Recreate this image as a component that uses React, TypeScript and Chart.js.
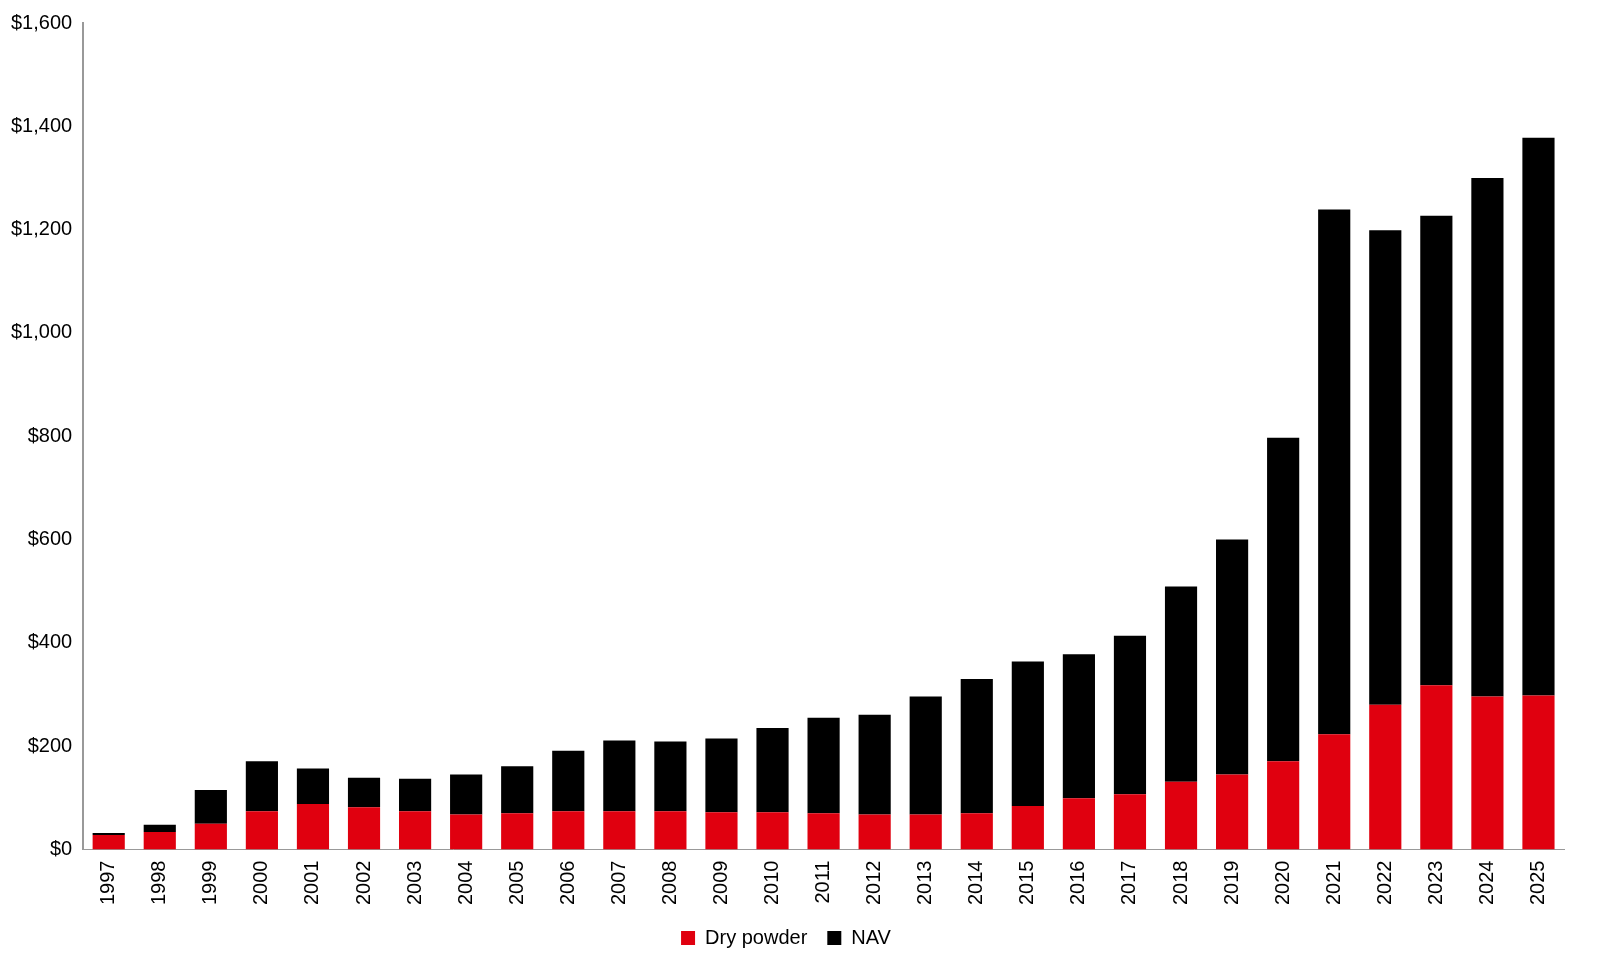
import React, { useEffect, useRef } from "react";
import { Chart, registerables } from "chart.js";
Chart.register(...registerables);

const years = ["1997","1998","1999","2000","2001","2002","2003","2004","2005","2006","2007","2008","2009","2010","2011","2012","2013","2014","2015","2016","2017","2018","2019","2020","2021","2022","2023","2024","2025"];
const dryPowder = [28,34,50,74,88,82,74,68,70,74,74,74,72,72,70,68,68,70,84,99,107,131,145,171,223,280,318,296,298];
const totals = [32,48,115,171,157,139,137,145,161,191,211,209,215,235,255,261,296,330,364,378,414,509,600,797,1239,1199,1227,1300,1378];
const nav = totals.map((t, i) => t - dryPowder[i]);

export default function App() {
  const ref = useRef<HTMLCanvasElement>(null);
  useEffect(() => {
    const font = { family: "'Liberation Sans', Arial, sans-serif", size: 20 };
    const chart = new Chart(ref.current!, {
      type: "bar",
      data: {
        labels: years,
        datasets: [
          { label: "Dry powder", data: dryPowder, backgroundColor: "#e0000f" },
          { label: "NAV", data: nav, backgroundColor: "#000000" },
        ],
      },
      options: {
        animation: false,
        responsive: false,
        layout: { padding: { top: 4, right: 50, left: 0, bottom: 0 } },
        datasets: { bar: { barPercentage: 0.63, categoryPercentage: 1 } },
        plugins: {
          tooltip: { enabled: false },
          legend: {
            position: "bottom",
            labels: { color: "#000", font, boxWidth: 14, boxHeight: 14, padding: 20 },
          },
        },
        scales: {
          x: {
            stacked: true,
            grid: { display: false },
            border: { color: "#999" },
            ticks: { color: "#000", font, minRotation: 90, maxRotation: 90 },
          },
          y: {
            stacked: true,
            min: 0,
            max: 1600,
            grid: { display: false },
            border: { color: "#999", width: 2 },
            ticks: {
              stepSize: 200,
              color: "#000",
              font,
              callback: (v: any) => "$" + Number(v).toLocaleString("en-US"),
            },
          },
        },
      },
    });
    return () => chart.destroy();
  }, []);
  return <canvas ref={ref} width={1606} height={950} />;
}
